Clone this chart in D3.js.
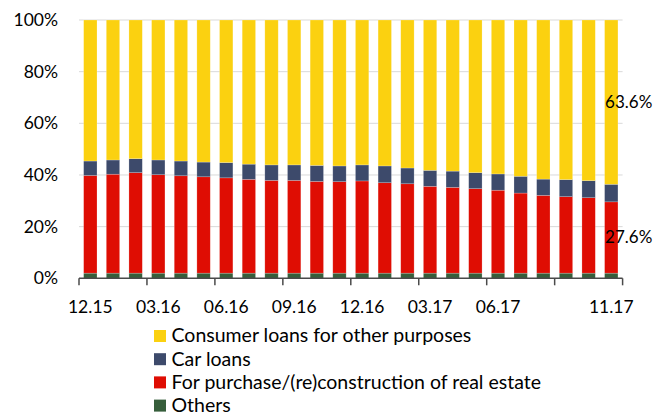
<!DOCTYPE html>
<html>
<head>
<meta charset="utf-8">
<script src="https://cdn.jsdelivr.net/npm/d3@7"></script>
<style>
  html, body { margin: 0; padding: 0; background: #fff; }
  svg { display: block; font-family: Lato, "Open Sans", sans-serif; }
</style>
</head>
<body>
<svg id="chart" width="654" height="416"></svg>
<script>
// Months, end of period
const months = ["12.15","01.16","02.16","03.16","04.16","05.16","06.16","07.16","08.16","09.16","10.16","11.16",
                "12.16","01.17","02.17","03.17","04.17","05.17","06.17","07.17","08.17","09.17","10.17","11.17"];
// Months that carry an axis label
const labelledMonths = ["12.15","03.16","06.16","09.16","12.16","03.17","06.17","11.17"];

// Shares of household loans by purpose, %
const others     = [2.0,2.0,2.0,2.0,2.0,2.0,2.0,2.0,2.0,2.0,2.0,2.0,2.0,2.0,2.0,2.0,2.0,2.0,2.0,2.0,2.0,2.0,2.0,2.0];
const realEstate = [37.8,38.3,38.9,38.1,37.7,37.3,36.9,36.3,35.9,35.9,35.5,35.4,35.7,35.0,34.6,33.6,33.2,32.7,32.1,31.0,30.1,29.6,29.2,27.6];
const carLoans   = [5.6,5.5,5.4,5.7,5.7,5.7,5.9,5.9,6.0,6.0,6.2,6.1,6.2,6.5,6.1,6.2,6.3,6.2,6.3,6.5,6.3,6.6,6.6,6.8];
const consumer   = [54.6,54.2,53.7,54.2,54.6,55.0,55.2,55.8,56.1,56.1,56.3,56.5,56.1,56.5,57.3,58.2,58.5,59.1,59.6,60.5,61.6,61.8,62.2,63.6];

const yTicks = [0, 20, 40, 60, 80, 100];

const seriesInfo = [
  { key: "others",     name: "Others",                                        color: "#365E3B" },
  { key: "realEstate", name: "For purchase/(re)construction of real estate",  color: "#DF0D03" },
  { key: "carLoans",   name: "Car loans",                                     color: "#3D4A6B" },
  { key: "consumer",   name: "Consumer loans for other purposes",             color: "#FBD110" }
];

const rows = months.map((m, i) => ({
  month: m, others: others[i], realEstate: realEstate[i], carLoans: carLoans[i], consumer: consumer[i]
}));

const svg = d3.select("#chart");
const margin = { left: 79, right: 31.4, top: 20, bottom: 137.7 };
const W = 654, H = 416;

const x = d3.scaleBand().domain(months)
  .range([margin.left, W - margin.right]).paddingInner(0.41).paddingOuter(0.205);
const y = d3.scaleLinear().domain([0, 100]).range([H - margin.bottom, margin.top]);

// Gridlines
svg.append("g").selectAll("line").data(yTicks.filter(t => t > 0)).join("line")
  .attr("x1", margin.left).attr("x2", W - margin.right)
  .attr("y1", d => y(d)).attr("y2", d => y(d))
  .attr("stroke", "#D9D9D9").attr("stroke-width", 1);

// Stacked bars
const stack = d3.stack().keys(seriesInfo.map(s => s.key));
const layers = stack(rows);
svg.append("g").selectAll("g").data(layers).join("g")
  .attr("fill", (d, i) => seriesInfo[i].color)
  .selectAll("rect").data(d => d).join("rect")
  .attr("x", d => x(d.data.month))
  .attr("width", x.bandwidth())
  .attr("y", d => y(d[1]))
  .attr("height", d => y(d[0]) - y(d[1]))
  .attr("stroke", "rgba(255,255,255,0.35)")
  .attr("stroke-width", 0.6);

// Y axis labels
const yAxis = d3.axisLeft(y).tickValues(yTicks).tickFormat(d => d + "%").tickSize(0).tickPadding(0);
const gy = svg.append("g").attr("transform", `translate(${margin.left - 21},0)`).call(yAxis);
gy.select(".domain").remove();
gy.selectAll("text").attr("font-size", "17.5px").attr("fill", "#000").attr("font-family", "Lato, sans-serif");

// X axis baseline with ticks every third month boundary
const axisY = y(0);
const step = x.step();
svg.append("line")
  .attr("x1", margin.left).attr("x2", W - margin.right)
  .attr("y1", axisY).attr("y2", axisY)
  .attr("stroke", "#4A4A4A").attr("stroke-width", 1.5);
const boundaries = d3.range(0, months.length + 1, 3);
svg.append("g").selectAll("line").data(boundaries).join("line")
  .attr("x1", d => margin.left + d * step).attr("x2", d => margin.left + d * step)
  .attr("y1", axisY).attr("y2", axisY + 7)
  .attr("stroke", "#4A4A4A").attr("stroke-width", 1.5);

const xAxis = d3.axisBottom(x).tickValues(labelledMonths).tickSize(0).tickPadding(0);
const gx = svg.append("g").attr("transform", `translate(0,${axisY})`).call(xAxis);
gx.select(".domain").remove();
gx.selectAll("text").attr("font-size", "17.5px").attr("fill", "#000")
  .attr("font-family", "Lato, sans-serif").attr("dy", null).attr("y", 35);

// Value labels on the latest bar
const last = rows[rows.length - 1];
const lastLayerMid = key => {
  const layer = layers.find(l => l.key === key);
  const seg = layer[layer.length - 1];
  return (seg[0] + seg[1]) / 2;
};
const valueLabels = [
  { key: "consumer", value: last.consumer },
  { key: "realEstate", value: last.realEstate }
];
svg.append("g").selectAll("text").data(valueLabels).join("text")
  .attr("x", x(last.month) + 0.5)
  .attr("y", d => y(lastLayerMid(d.key)))
  .attr("dy", "0.35em")
  .attr("font-size", "17px")
  .attr("fill", "#000")
  .text(d => d.value.toFixed(1) + "%");

// Legend
const legendOrder = ["consumer", "carLoans", "realEstate", "others"];
const legend = svg.append("g").attr("transform", "translate(154,330)");
const item = legend.selectAll("g").data(legendOrder.map(k => seriesInfo.find(s => s.key === k))).join("g")
  .attr("transform", (d, i) => `translate(0,${i * 23.2})`);
item.append("rect").attr("width", 12).attr("height", 12).attr("fill", d => d.color);
item.append("text").attr("x", 17.5).attr("y", 12.3)
  .attr("font-size", "19.5px").attr("fill", "#000").text(d => d.name);
</script>
</body>
</html>
